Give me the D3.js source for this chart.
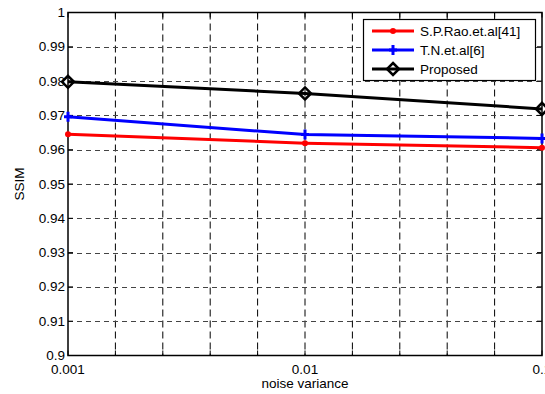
<!DOCTYPE html>
<html><head><meta charset="utf-8">
<script src="https://cdn.jsdelivr.net/npm/d3@7"></script>
<style>body{margin:0;background:#fff}svg{display:block}text{font-family:"Liberation Sans",Arial,sans-serif}</style>
</head><body><svg id="c" width="545" height="394"></svg>
<script>
const xCategories = ["0.001", "0.01", "0.1"];
const seriesNames = ["S.P.Rao.et.al[41]", "T.N.et.al[6]", "Proposed"];
const seriesColors = ["#ff0000", "#0000ff", "#000000"];
const raoValues = [0.9645, 0.9619, 0.9606];
const tnValues = [0.9696, 0.9644, 0.9633];
const proposedValues = [0.9798, 0.9764, 0.9719];
const yTicks = [0.9, 0.91, 0.92, 0.93, 0.94, 0.95, 0.96, 0.97, 0.98, 0.99, 1];
const yTickLabels = ["0.9", "0.91", "0.92", "0.93", "0.94", "0.95", "0.96", "0.97", "0.98", "0.99", "1"];

const svg = d3.select("#c");
const L = 68, R = 542, T = 12.5, B = 355.5;
const FS = 13.5;
const x = d3.scaleLinear().domain([0, 2]).range([L, R]);
const y = d3.scaleLinear().domain([0.9, 1]).range([B, T]);
const xGrid = d3.range(0, 2.0001, 0.2);

const g = svg.append("g");
// grid
g.selectAll(".vg").data(xGrid.slice(1, -1)).join("line")
  .attr("x1", d => x(d)).attr("x2", d => x(d)).attr("y1", T).attr("y2", B)
  .attr("stroke", "#000").attr("stroke-width", 1).attr("stroke-dasharray", "7,4");
g.selectAll(".hg").data(yTicks.slice(1, -1)).join("line")
  .attr("x1", L).attr("x2", R).attr("y1", d => Math.round(y(d)) + 0.5).attr("y2", d => Math.round(y(d)) + 0.5)
  .attr("stroke", "#444").attr("stroke-width", 1).attr("stroke-dasharray", "5,4");

// inner ticks
g.selectAll(".tb").data(xGrid).join("line")
  .attr("x1", d => x(d)).attr("x2", d => x(d)).attr("y1", B).attr("y2", B - 5).attr("stroke", "#000");
g.selectAll(".tt").data(xGrid).join("line")
  .attr("x1", d => x(d)).attr("x2", d => x(d)).attr("y1", T).attr("y2", T + 5).attr("stroke", "#000");
g.selectAll(".tl").data(yTicks).join("line")
  .attr("x1", L).attr("x2", L + 5).attr("y1", d => y(d)).attr("y2", d => y(d)).attr("stroke", "#000");
g.selectAll(".tr").data(yTicks).join("line")
  .attr("x1", R).attr("x2", R - 5).attr("y1", d => y(d)).attr("y2", d => y(d)).attr("stroke", "#000");

// box
g.append("rect").attr("x", L).attr("y", T).attr("width", R - L).attr("height", B - T)
  .attr("fill", "none").attr("stroke", "#000").attr("stroke-width", 1.5);

// tick labels
g.selectAll(".yl").data(yTicks).join("text")
  .attr("x", L - 3).attr("y", d => y(d) + 4.5).attr("text-anchor", "end")
  .attr("font-size", FS).text((d, i) => yTickLabels[i]);
g.selectAll(".xl").data(xCategories).join("text")
  .attr("x", (d, i) => x(i)).attr("y", 373.5).attr("text-anchor", "middle")
  .attr("font-size", FS).text(d => d);

svg.append("text").attr("x", x(1)).attr("y", 388).attr("text-anchor", "middle")
  .attr("font-size", FS).text("noise variance");
svg.append("text").attr("transform", `translate(24,${(T + B) / 2}) rotate(-90)`)
  .attr("text-anchor", "middle").attr("font-size", FS).text("SSIM");

// lines
const allSeries = [raoValues, tnValues, proposedValues];
const line = d3.line().x((d, i) => x(i)).y(d => y(d));
function marker(sel, k, cx, cy) {
  if (k === 0) {
    sel.append("circle").attr("cx", cx).attr("cy", cy).attr("r", 3).attr("fill", seriesColors[0]);
  } else if (k === 1) {
    sel.append("path").attr("d", `M${cx - 4},${cy}H${cx + 4}M${cx},${cy - 5}V${cy + 5}`)
      .attr("stroke", seriesColors[1]).attr("stroke-width", 3);
  } else {
    sel.append("path").attr("d", `M${cx},${cy - 6}L${cx + 6},${cy}L${cx},${cy + 6}L${cx - 6},${cy}Z`)
      .attr("fill", "none").attr("stroke", "#000").attr("stroke-width", 2.5);
  }
}
allSeries.forEach((vals, k) => {
  g.append("path").datum(vals).attr("d", line).attr("fill", "none")
    .attr("stroke", seriesColors[k]).attr("stroke-width", 3);
  vals.forEach((v, i) => marker(g, k, x(i), y(v)));
});

// legend
const lg = svg.append("g");
lg.append("rect").attr("x", 363.5).attr("y", 19.5).attr("width", 172).attr("height", 61)
  .attr("fill", "#fff").attr("stroke", "#000").attr("stroke-width", 1.2);
seriesNames.forEach((nm, k) => {
  const yy = 31 + k * 19;
  lg.append("line").attr("x1", 372).attr("x2", 414).attr("y1", yy).attr("y2", yy)
    .attr("stroke", seriesColors[k]).attr("stroke-width", 3);
  marker(lg, k, 393, yy);
  lg.append("text").attr("x", 420).attr("y", yy + 5).attr("font-size", FS).text(nm);
});
</script></body></html>
